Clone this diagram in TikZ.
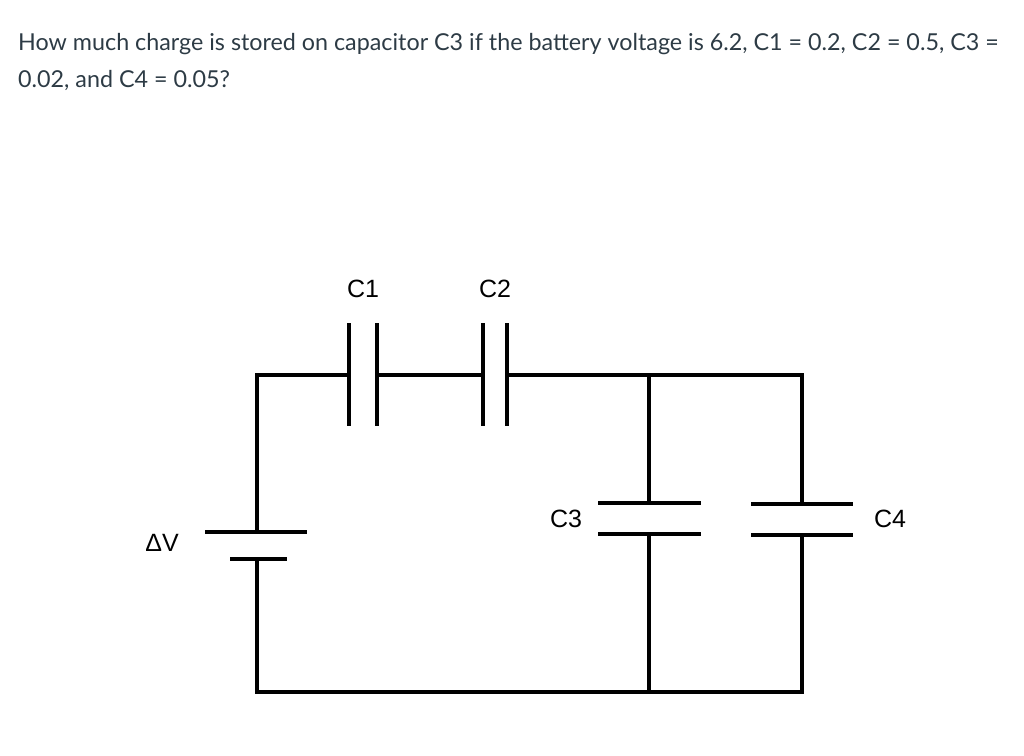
\documentclass[tikz,border=0pt]{standalone}
\usepackage{fontspec}
\setmainfont{Lato}
\newfontfamily\labelfont{Liberation Sans}
\definecolor{qtext}{HTML}{2D3B45}
\tikzset{
  wire/.style={line width=3.2pt,line cap=rect},
  plate/.style={line width=3.2pt},
  clabel/.style={font=\labelfont\fontsize{25}{30}\selectfont},
  qline/.style={anchor=base west,inner sep=0pt,text=qtext,font=\fontsize{23.3}{28}\selectfont}
}
\begin{document}
\begin{tikzpicture}[x=1pt,y=-1pt]
      \useasboundingbox (0,0) rectangle (1024,755);
      \node[qline] (q1) at (18,50) {How much charge is stored on capacitor C3 if the battery voltage is 6.2, C1 = 0.2, C2 = 0.5, C3 =};
      \node[qline] (q2) at (18,87) {0.02, and C4 = 0.05?};

      \coordinate (tl) at (257,375); \coordinate (bl) at (257,692);
      \coordinate (t3) at (649,375); \coordinate (b3) at (649,692);
      \coordinate (tr) at (802,375); \coordinate (br) at (802,692);

      % top branch with C1 and C2
      \draw[wire] (257,532) -- (tl) -- (349,375);
      \draw[plate] (349,323) -- (349,426); \draw[plate] (377,323) -- (377,426);
      \draw[wire] (377,375) -- (483,375);
      \draw[plate] (483,323) -- (483,426); \draw[plate] (507,323) -- (507,426);
      \draw[wire] (507,375) -- (t3) -- (tr) -- (802,504);

      % battery
      \draw[plate] (205,532) -- (307,532);
      \draw[plate] (230,559) -- (287,559);
      \draw[wire] (257,559) -- (bl) -- (b3) -- (br) -- (802,535);

      % C3 and C4
      \draw[wire] (t3) -- (649,503);
      \draw[plate] (598,503) -- (701,503); \draw[plate] (598,534) -- (701,534);
      \draw[wire] (649,534) -- (b3);
      \draw[plate] (751,504) -- (853,504); \draw[plate] (751,535) -- (853,535);

      \node[clabel] (c1) at (363,289) {C1};
      \node[clabel] (c2) at (495,289) {C2};
      \node[clabel] (c3) at (566,519) {C3};
      \node[clabel] (c4) at (890,519) {C4};
      \node[clabel] (dv) at (162,543) {ΔV};
    \end{tikzpicture}
\end{document}
